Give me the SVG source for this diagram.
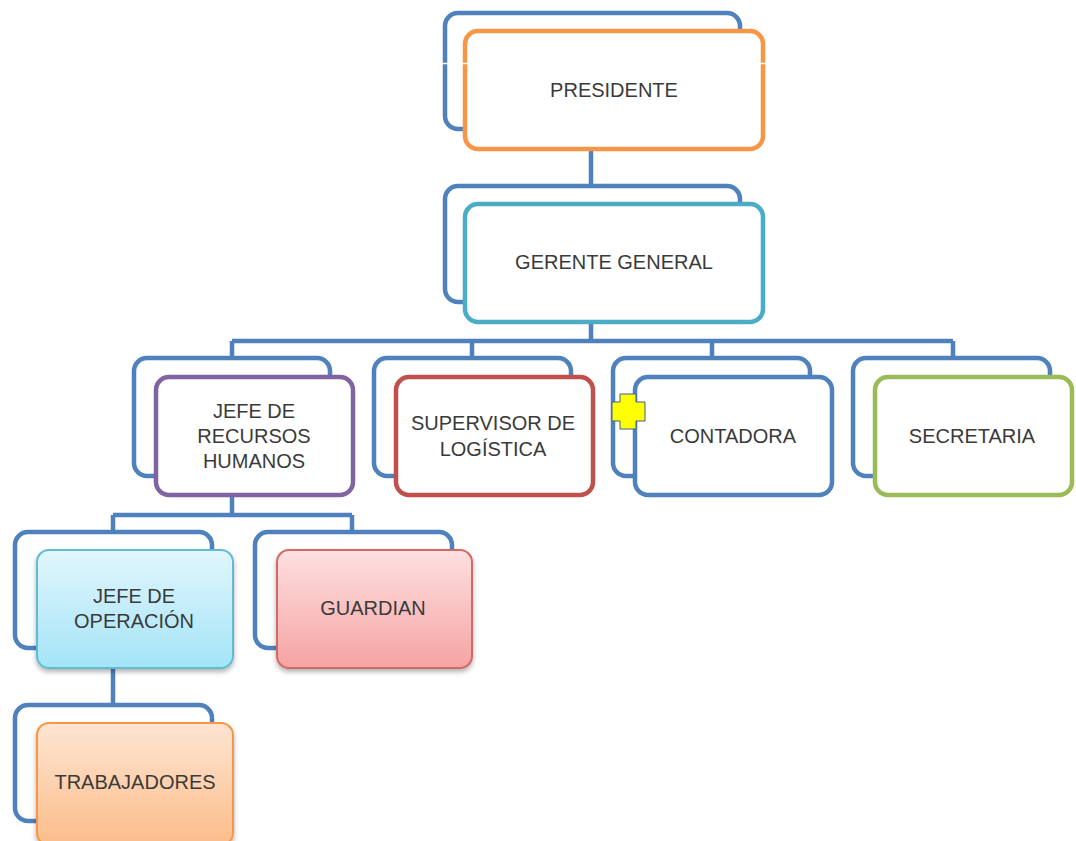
<svg xmlns="http://www.w3.org/2000/svg" width="1076" height="841" viewBox="0 0 1076 841">
<defs>
<style>
.back{fill:#ffffff;stroke:#4f81bd;stroke-width:4.5}
.front{fill:#ffffff;stroke-width:4.5}
.conn{fill:none;stroke:#4f81bd;stroke-width:4.5;stroke-linecap:butt}
.t{font-family:"Liberation Sans",Arial,sans-serif;font-size:20px;fill:#3a3a3a;text-anchor:middle}
</style>
<linearGradient id="gCyan" x1="0" y1="0" x2="0" y2="1"><stop offset="0" stop-color="#e2f6fd"/><stop offset="1" stop-color="#a3e4f7"/></linearGradient>
<linearGradient id="gRed" x1="0" y1="0" x2="0" y2="1"><stop offset="0" stop-color="#fde0e0"/><stop offset="1" stop-color="#f6a3a3"/></linearGradient>
<linearGradient id="gOrange" x1="0" y1="0" x2="0" y2="1"><stop offset="0" stop-color="#fee5d2"/><stop offset="1" stop-color="#fbbd8a"/></linearGradient>
<filter id="sh" x="-10%" y="-10%" width="120%" height="130%"><feDropShadow dx="0" dy="3" stdDeviation="2.5" flood-color="#000" flood-opacity="0.3"/></filter>
</defs>
<rect width="1076" height="841" fill="#ffffff"/>
<g id="connectors">
<path class="conn" d="M591 149V186"/>
<path class="conn" d="M591 323V341M232 341H953M232 341V358M472 341V358M712 341V358M953 341V358"/>
<path class="conn" d="M232 496V515M113 515H352M113 515V532M352 515V532"/>
<path class="conn" d="M113 669V705"/>
</g>
<g id="presidente">
<rect class="back" x="445" y="13" width="295" height="116" rx="13"/>
<rect class="front" x="465" y="31" width="298" height="118" rx="13" stroke="#f79646"/>
<line x1="441" y1="63.5" x2="767" y2="63.5" stroke="#ffffff" stroke-width="1.5"/>
<text class="t" x="614" y="97">PRESIDENTE</text>
</g>
<g id="gerente">
<rect class="back" x="445" y="186" width="295" height="116" rx="13"/>
<rect class="front" x="465" y="204" width="298" height="118" rx="13" stroke="#4bacc6"/>
<text class="t" x="614" y="269">GERENTE GENERAL</text>
</g>
<g id="rrhh">
<rect class="back" x="134" y="358" width="196" height="118" rx="13"/>
<rect class="front" x="156" y="377" width="197" height="118" rx="13" stroke="#8064a2"/>
<text class="t" x="254" y="418">JEFE DE</text>
<text class="t" x="254" y="443">RECURSOS</text>
<text class="t" x="254" y="468">HUMANOS</text>
</g>
<g id="supervisor">
<rect class="back" x="374" y="358" width="197" height="118" rx="13"/>
<rect class="front" x="396" y="377" width="197" height="118" rx="13" stroke="#c0504d"/>
<text class="t" x="493" y="430">SUPERVISOR DE</text>
<text class="t" x="493" y="456">LOGÍSTICA</text>
</g>
<g id="contadora">
<rect class="back" x="613" y="358" width="197" height="118" rx="13"/>
<rect class="front" x="635" y="377" width="197" height="118" rx="13" stroke="#4f81bd"/>
<text class="t" x="733" y="443">CONTADORA</text>
</g>
<g id="secretaria">
<rect class="back" x="853" y="358" width="197" height="118" rx="13"/>
<rect class="front" x="875" y="377" width="197" height="118" rx="13" stroke="#9bbb59"/>
<text class="t" x="972" y="443">SECRETARIA</text>
</g>
<g id="cross">
<path d="M620 394H636V402H645V421H636V429H620V421H612V402H620Z" fill="#ffff00" stroke="#3f5f8f" stroke-width="1"/>
</g>
<g id="operacion">
<rect class="back" x="15" y="532" width="197" height="116" rx="13"/>
<rect x="37" y="550" width="196" height="118" rx="12" fill="url(#gCyan)" stroke="#5fbcd3" stroke-width="2" filter="url(#sh)"/>
<text class="t" x="134" y="603">JEFE DE</text>
<text class="t" x="134" y="628">OPERACIÓN</text>
</g>
<g id="guardian">
<rect class="back" x="255" y="532" width="197" height="116" rx="13"/>
<rect x="277" y="550" width="195" height="118" rx="12" fill="url(#gRed)" stroke="#d06a68" stroke-width="2" filter="url(#sh)"/>
<text class="t" x="373" y="615">GUARDIAN</text>
</g>
<g id="trabajadores">
<rect class="back" x="15" y="705" width="197" height="116" rx="13"/>
<rect x="37" y="723" width="196" height="122" rx="12" fill="url(#gOrange)" stroke="#f79646" stroke-width="2" filter="url(#sh)"/>
<text class="t" x="135" y="789">TRABAJADORES</text>
</g>
</svg>
